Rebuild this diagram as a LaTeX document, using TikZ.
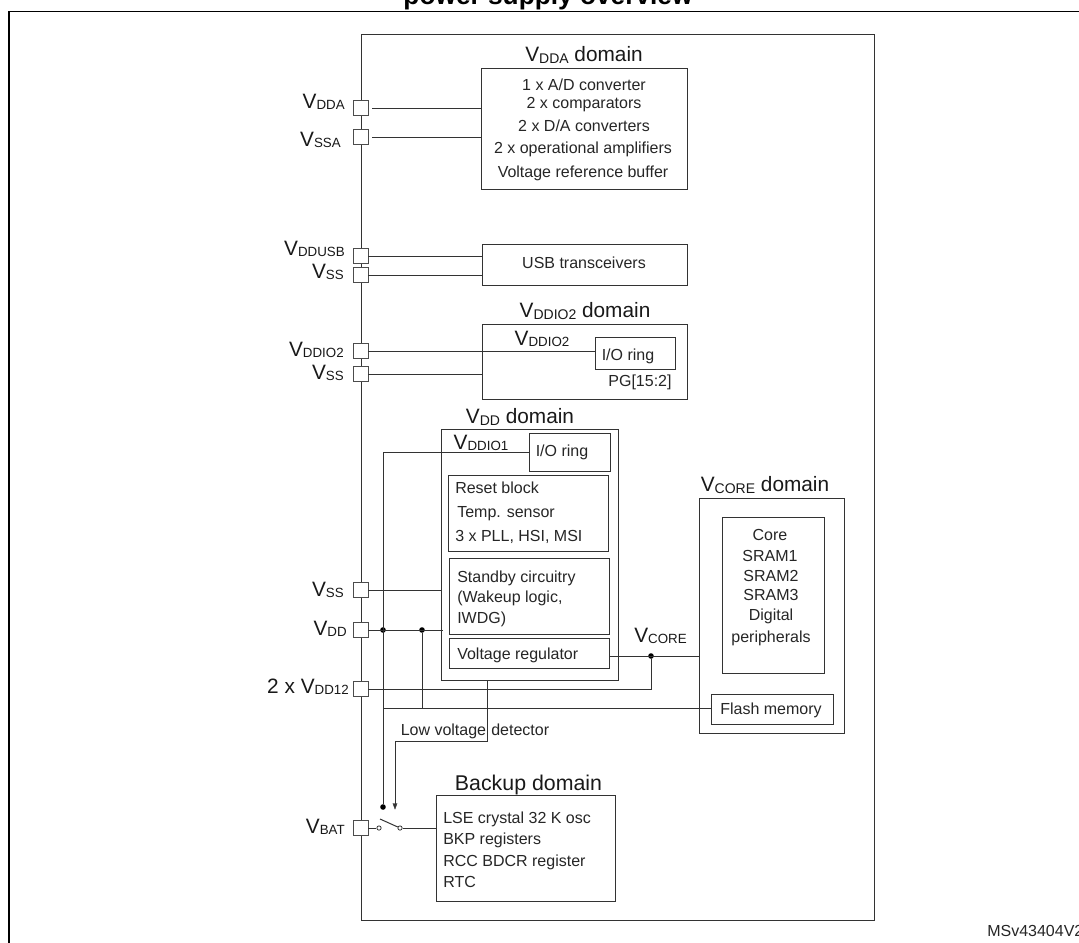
\documentclass[tikz,border=0pt]{standalone}
\usepackage{fontspec}
\setmainfont{Liberation Sans}
\newcommand{\lblV}[1]{{\fontsize{15.6}{15.6}\selectfont V\raisebox{-1pt}{\fontsize{10}{10}\selectfont #1}}}
\newcommand{\titleV}[1]{{\fontsize{15.6}{15.6}\selectfont V\raisebox{-1.5pt}{\fontsize{10.5}{10.5}\selectfont #1}}}
\newcommand{\boxn}[5]{\node[box,minimum width={(#4-#2)*0.75pt},minimum height={(#5-#3)*0.75pt}] (#1) at ({(#2+#4)/2},{(#3+#5)/2}) {};}
\tikzset{
  linew/.style={draw=black!80, line width=0.75pt},
  box/.style={linew, fill=white, inner sep=0pt, outer sep=0pt},
  pad/.style={draw=black!70, line width=0.7pt, fill=white, inner sep=0pt, outer sep=0pt, minimum width=11.6pt, minimum height=11pt},
  txt/.style={inner sep=0pt, anchor=base, font=\fontsize{12}{14}\selectfont, text=black!85},
  txtl/.style={txt, anchor=base west},
  lab/.style={inner sep=0pt, anchor=base east, text=black!90, font=\fontsize{15.6}{15.6}\selectfont},
  ttl/.style={inner sep=0pt, anchor=base, text=black!90, font=\fontsize{15.6}{15.6}\selectfont},
  dotj/.style={circle, fill=black, inner sep=0pt, minimum size=4.2pt},
  swc/.style={circle, draw=black!80, fill=white, line width=0.6pt, inner sep=0pt, minimum size=3.2pt},
  tip/.style={draw=black!80, fill=black!80, line width=0.3pt},
}
\begin{document}
\begin{tikzpicture}[x=0.75pt,y=-0.75pt]
\useasboundingbox (0,0) rectangle (1079,943);
\clip (0,0) rectangle (1079,943);
\fill[white] (0,0) rectangle (1079,943);
% page frame and clipped heading
\coordinate (fa) at (8.8,943); \coordinate (fb) at (8.8,11.5); \coordinate (fc) at (1079,11.5);
\draw[black, line width=1.1pt] (fa) -- (fb) -- (fc);
\node[inner sep=0pt, anchor=base, font=\bfseries\fontsize{19.7}{20}\selectfont] (title) at (548,4) {power supply overview};
% chip and domain boxes
\boxn{chip}{361}{34}{874}{920}
\boxn{vdda}{481}{68}{687}{189}
\boxn{usb}{482}{244}{687}{285}
\boxn{vddiotwo}{482}{324}{687}{399}
\boxn{vdd}{441}{429}{618}{680}
\boxn{vcore}{699}{498}{844}{733}
\boxn{backup}{436}{795}{615.5}{901}
\boxn{ioa}{595}{337}{675}{369}
\boxn{iob}{529}{433}{610}{471}
\boxn{reset}{448}{475}{608}{551}
\boxn{standby}{449}{558}{609}{634}
\boxn{reg}{449}{638}{609}{668}
\boxn{core}{722}{517}{824}{673}
\boxn{flash}{711}{694}{833}{724}
% pads
\node[pad] (pDDA) at (360.7,108) {};
\node[pad] (pSSA) at (360.7,137) {};
\node[pad] (pUSB) at (360.7,256) {};
\node[pad] (pSSb) at (360.7,275) {};
\node[pad] (pIOt) at (360.7,351) {};
\node[pad] (pSSc) at (360.7,374) {};
\node[pad] (pSSd) at (360.7,590) {};
\node[pad] (pDD)  at (360.7,630) {};
\node[pad] (pDDt) at (360.7,689) {};
\node[pad] (pBAT) at (360.7,828) {};
% junctions and bends
\node[dotj] (d1) at (383,630) {};
\node[dotj] (d2) at (422,630) {};
\node[dotj] (d3) at (651,656) {};
\node[dotj] (d4) at (383,807) {};
\coordinate (lva) at (487,680);
\coordinate (lvb) at (487,741);
\coordinate (lvc) at (395,741);
\coordinate (lvd) at (395,805);
\coordinate (bus) at (383,708);
\coordinate (ddin) at (443,630);
% connectors
\draw[linew] ([xshift=3pt]pDDA.east) -- (pDDA.east -| vdda.west);
\draw[linew] ([xshift=3pt]pSSA.east) -- (pSSA.east -| vdda.west);
\draw[linew] (pUSB.east) -- (pUSB.east -| usb.west);
\draw[linew] (pSSb.east) -- (pSSb.east -| usb.west);
\draw[linew] (pIOt.east) -- (pIOt.east -| ioa.west);
\draw[linew] (pSSc.east) -- (pSSc.east -| vddiotwo.west);
\draw[linew] (d4) -- (d4 |- iob.west) -- (iob.west);
\draw[linew] (pSSd.east) -- (pSSd.east -| vdd.west);
\draw[linew] (pDD.east) -- (ddin);
\draw[linew] (d2) -- (d2 |- bus);
\draw[linew] (bus) -- (bus -| flash.west);
\draw[linew] (pDDt.east) -- (pDDt.east -| d3) -- (d3);
\draw[linew] (d3 -| reg.east) -- (d3 -| vcore.west);
\draw[linew] (lva) -- (lvb) -- (lvc) -- (lvd);
\draw[tip] (392.9,803.5) -- (397.1,803.5) -- (395,809) -- cycle;
% switch
\node[swc] (s1) at (379,828) {};
\node[swc] (s2) at (400,828) {};
\coordinate (lever) at (380,819);
\draw[linew] (pBAT.east) -- (s1);
\draw[linew] (lever) -- (s2);
\draw[linew] (s2) -- (s2 -| backup.west);
% pad labels
\node[lab] (lDDA) at (345,108) {\lblV{DDA}};
\node[lab] (lSSA) at (341,146.5) {\lblV{SSA}};
\node[lab] (lUSB) at (345,255) {\lblV{DDUSB}};
\node[lab] (lSSb) at (344,278) {\lblV{SS}};
\node[lab] (lIOt) at (344,356) {\lblV{DDIO2}};
\node[lab] (lSSc) at (344,379) {\lblV{SS}};
\node[lab] (lSSd) at (344,596.5) {\lblV{SS}};
\node[lab] (lDD)  at (347,635) {\lblV{DD}};
\node[lab] (lDDt) at (349,693) {2 x \lblV{DD12}};
\node[lab] (lBAT) at (345,833) {\lblV{BAT}};
% domain titles
\node[ttl] (tDDA) at (584,61) {\titleV{DDA} domain};
\node[ttl] (tIOt) at (585,317) {\titleV{DDIO2} domain};
\node[ttl] (tDD)  at (520,423) {\titleV{DD} domain};
\node[ttl] (tCOR) at (765,491) {\titleV{CORE} domain};
\node[ttl, font=\fontsize{16}{16}\selectfont] (tBAK) at (528.5,790) {Backup domain};
\node[ttl] (vIOt) at (542,345) {\lblV{DDIO2}};
\node[ttl] (vIOa) at (481,449) {\lblV{DDIO1}};
\node[ttl] (vCOR) at (660.5,642) {\lblV{CORE}};
% body texts
\node[txt] (a1) at (584,90) {1 x A/D converter};
\node[txt] (a2) at (584,108) {2 x comparators};
\node[txt] (a3) at (584,131.5) {2 x D/A converters};
\node[txt] (a4) at (583,153) {2 x operational amplifiers};
\node[txt] (a5) at (583,177) {Voltage reference buffer};
\node[txt] (u1) at (584,268.5) {USB transceivers};
\node[txt] (i1) at (628,360.5) {I/O ring};
\node[txt] (i2) at (640,386.5) {PG[15:2]};
\node[txt] (i3) at (562,456) {I/O ring};
\node[txtl] (r1) at (455,493) {Reset block};
\node[txtl] (r2) at (457,517) {Temp. sensor};
\node[txtl] (r3) at (455,541) {3 x PLL, HSI, MSI};
\node[txtl] (s3) at (457,582) {Standby circuitry};
\node[txtl] (s4) at (457,602) {(Wakeup logic,};
\node[txtl] (s5) at (457,623) {IWDG)};
\node[txtl] (r4) at (457,659) {Voltage regulator};
\node[txt] (c1) at (770,540) {Core};
\node[txt] (c2) at (770,561) {SRAM1};
\node[txt] (c3) at (771,581) {SRAM2};
\node[txt] (c4) at (771,600) {SRAM3};
\node[txt] (c5) at (771,620) {Digital};
\node[txt] (c6) at (771,642.5) {peripherals};
\node[txt] (f1) at (771,714) {Flash memory};
\node[txtl] (v1) at (400.5,735) {Low voltage};
\node[txtl] (v2) at (491,735) {detector};
\node[txtl] (b1) at (443,823) {LSE crystal 32 K osc};
\node[txtl] (b2) at (443,844) {BKP registers};
\node[txtl] (b3) at (443,866) {RCC BDCR register};
\node[txtl] (b4) at (443,887) {RTC};
\node[txtl] (m1) at (987,936) {MSv43404V2};
\end{tikzpicture}
\end{document}
